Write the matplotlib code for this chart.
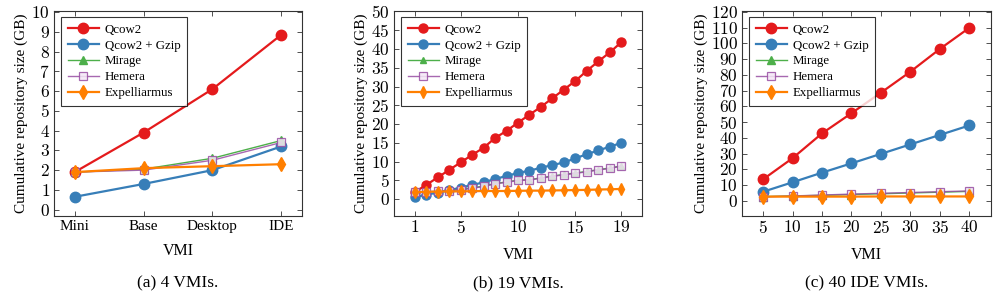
import matplotlib
matplotlib.use("Agg")
from matplotlib import pyplot as plt
from matplotlib.ticker import FuncFormatter

plt.rcParams['font.family'] = ['Liberation Serif', 'DejaVu Serif']
plt.rcParams['mathtext.fontset'] = 'cm'

series = ["Qcow2", "Qcow2 + Gzip", "Mirage", "Hemera", "Expelliarmus"]

# (a) 4 VMIs
vmi_a = ["Mini", "Base", "Desktop", "IDE"]
a_qcow2 = [1.9, 3.9, 6.1, 8.85]
a_gzip = [0.65, 1.3, 2.0, 3.2]
a_mirage = [1.9, 2.05, 2.6, 3.5]
a_hemera = [1.9, 2.0, 2.5, 3.4]
a_expel = [1.9, 2.1, 2.2, 2.3]

# (b) 19 VMIs
vmi_b = list(range(1, 20))
b_qcow2 = [1.9, 3.8, 5.8, 7.8, 9.8, 11.8, 13.7, 16.3, 18.2, 20.4, 22.5, 24.6,
           26.9, 29.2, 31.5, 34.2, 36.7, 39.1, 41.8]
b_gzip = [0.6, 1.2, 1.8, 2.4, 3.1, 3.8, 4.5, 5.4, 6.2, 7.0, 7.6, 8.4, 9.1, 9.8,
          10.9, 12.0, 13.0, 14.0, 15.0]
b_mirage = [1.9, 2.0, 2.1, 2.3, 2.6, 3.0, 3.5, 4.2, 4.6, 5.1, 5.2, 5.7, 6.2,
            6.6, 7.0, 7.4, 7.9, 8.3, 8.9]
b_hemera = [1.9, 2.0, 2.1, 2.3, 2.6, 2.9, 3.4, 4.1, 4.5, 5.0, 5.1, 5.6, 6.1,
            6.5, 6.9, 7.3, 7.8, 8.2, 8.8]
b_expel = [1.9, 2.0, 2.05, 2.1, 2.1, 2.15, 2.2, 2.2, 2.2, 2.25, 2.3, 2.3, 2.35,
           2.4, 2.45, 2.5, 2.6, 2.65, 2.75]

# (c) 40 IDE VMIs
vmi_c = [5, 10, 15, 20, 25, 30, 35, 40]
c_qcow2 = [13.8, 27.2, 42.9, 55.7, 68.7, 82.0, 96.4, 109.8]
c_gzip = [5.9, 11.9, 18.0, 23.9, 29.9, 35.9, 41.9, 47.9]
c_mirage = [2.8, 3.2, 3.6, 4.1, 4.6, 5.1, 5.6, 6.1]
c_hemera = [2.6, 3.2, 3.8, 4.4, 4.9, 5.4, 5.9, 6.4]
c_expel = [2.8, 2.8, 2.8, 2.8, 2.9, 2.9, 2.9, 2.9]

RED = "#e41a1c"
BLUE = "#377eb8"
GREEN = "#4daf4a"
PURPLE = "#984ea3"
ORANGE = "#ff7f00"

W, H = 998, 295
fig = plt.figure(figsize=(W / 100, H / 100), dpi=100)


def px_axes(l, r, t, b):
    return fig.add_axes([l / W, 1 - b / H, (r - l) / W, (b - t) / H])


def draw(ax, x, ys, ms):
    q, g, m, h, e = ys
    ax.plot(x, q, '-o', color=RED, lw=1.6, ms=ms, label=series[0])
    ax.plot(x, g, '-o', color=BLUE, lw=1.6, ms=ms, label=series[1])
    ax.plot(x, m, '-^', color=GREEN, lw=1.0, ms=ms * 0.75, label=series[2])
    ax.plot(x, h, '-s', color=PURPLE, lw=1.0, ms=ms * 0.8, mfc='#f4e8f6',
            mew=0.9, alpha=0.85, label=series[3])
    ax.plot(x, e, '-d', color=ORANGE, lw=1.6, ms=ms * 0.9, label=series[4])
    ax.tick_params(direction='in', top=True, right=True, length=3.5,
                   width=0.6, labelsize=11, color='#333333', pad=3)
    ax.tick_params(axis='y', labelsize=12.5)
    for s in ax.spines.values():
        s.set_linewidth(0.8)
        s.set_color('#333333')
    ax.set_ylabel("Cumulative repository size (GB)", fontsize=11, labelpad=2)
    ax.set_xlabel("VMI", fontsize=11.5, labelpad=7)
    leg = ax.legend(loc='upper left', bbox_to_anchor=(0.03, 0.97),
                    fontsize=9.3, frameon=True, fancybox=False,
                    edgecolor='black', borderpad=0.5, labelspacing=0.3,
                    handlelength=2.4, handletextpad=0.45, borderaxespad=0)
    leg.get_frame().set_linewidth(0.8)


mathfmt = FuncFormatter(lambda v, p: r"$%d$" % round(v))

ax1 = px_axes(54, 302, 11, 216)
xa = list(range(len(vmi_a)))
draw(ax1, xa, [a_qcow2, a_gzip, a_mirage, a_hemera, a_expel], 7.5)
ax1.set_xticks(xa)
ax1.set_xticklabels(vmi_a)
ax1.set_xlim(-0.3, 3.3)
ax1.set_ylim(-0.32, 10.05)
ax1.set_yticks(range(0, 11))
ax1.yaxis.set_major_formatter(mathfmt)

ax2 = px_axes(394, 642, 11, 216)
draw(ax2, vmi_b, [b_qcow2, b_gzip, b_mirage, b_hemera, b_expel], 6.5)
ax2.set_xticks([1, 5, 10, 15, 19])
ax2.set_xlim(-0.8, 20.8)
ax2.set_ylim(-4.45, 50.1)
ax2.set_yticks(range(0, 51, 5))
ax2.xaxis.set_major_formatter(mathfmt)
ax2.yaxis.set_major_formatter(mathfmt)
ax2.tick_params(axis='x', labelsize=12.5)

ax3 = px_axes(742, 991, 11, 216)
draw(ax3, vmi_c, [c_qcow2, c_gzip, c_mirage, c_hemera, c_expel], 7.5)
ax3.set_xticks(vmi_c)
ax3.set_xlim(1.4, 43.7)
ax3.set_ylim(-9.5, 120.5)
ax3.set_yticks(range(0, 121, 10))
ax3.xaxis.set_major_formatter(mathfmt)
ax3.yaxis.set_major_formatter(mathfmt)
ax3.tick_params(axis='x', labelsize=12.5)

for ax, cap in [(ax1, "(a) 4 VMIs."), (ax2, "(b) 19 VMIs."),
                (ax3, "(c) 40 IDE VMIs.")]:
    pos = ax.get_position()
    fig.text((pos.x0 + pos.x1) / 2, 1 - 283 / H, cap, ha='center',
             va='center', fontsize=12.5)

fig.savefig("out.png", dpi=100)
